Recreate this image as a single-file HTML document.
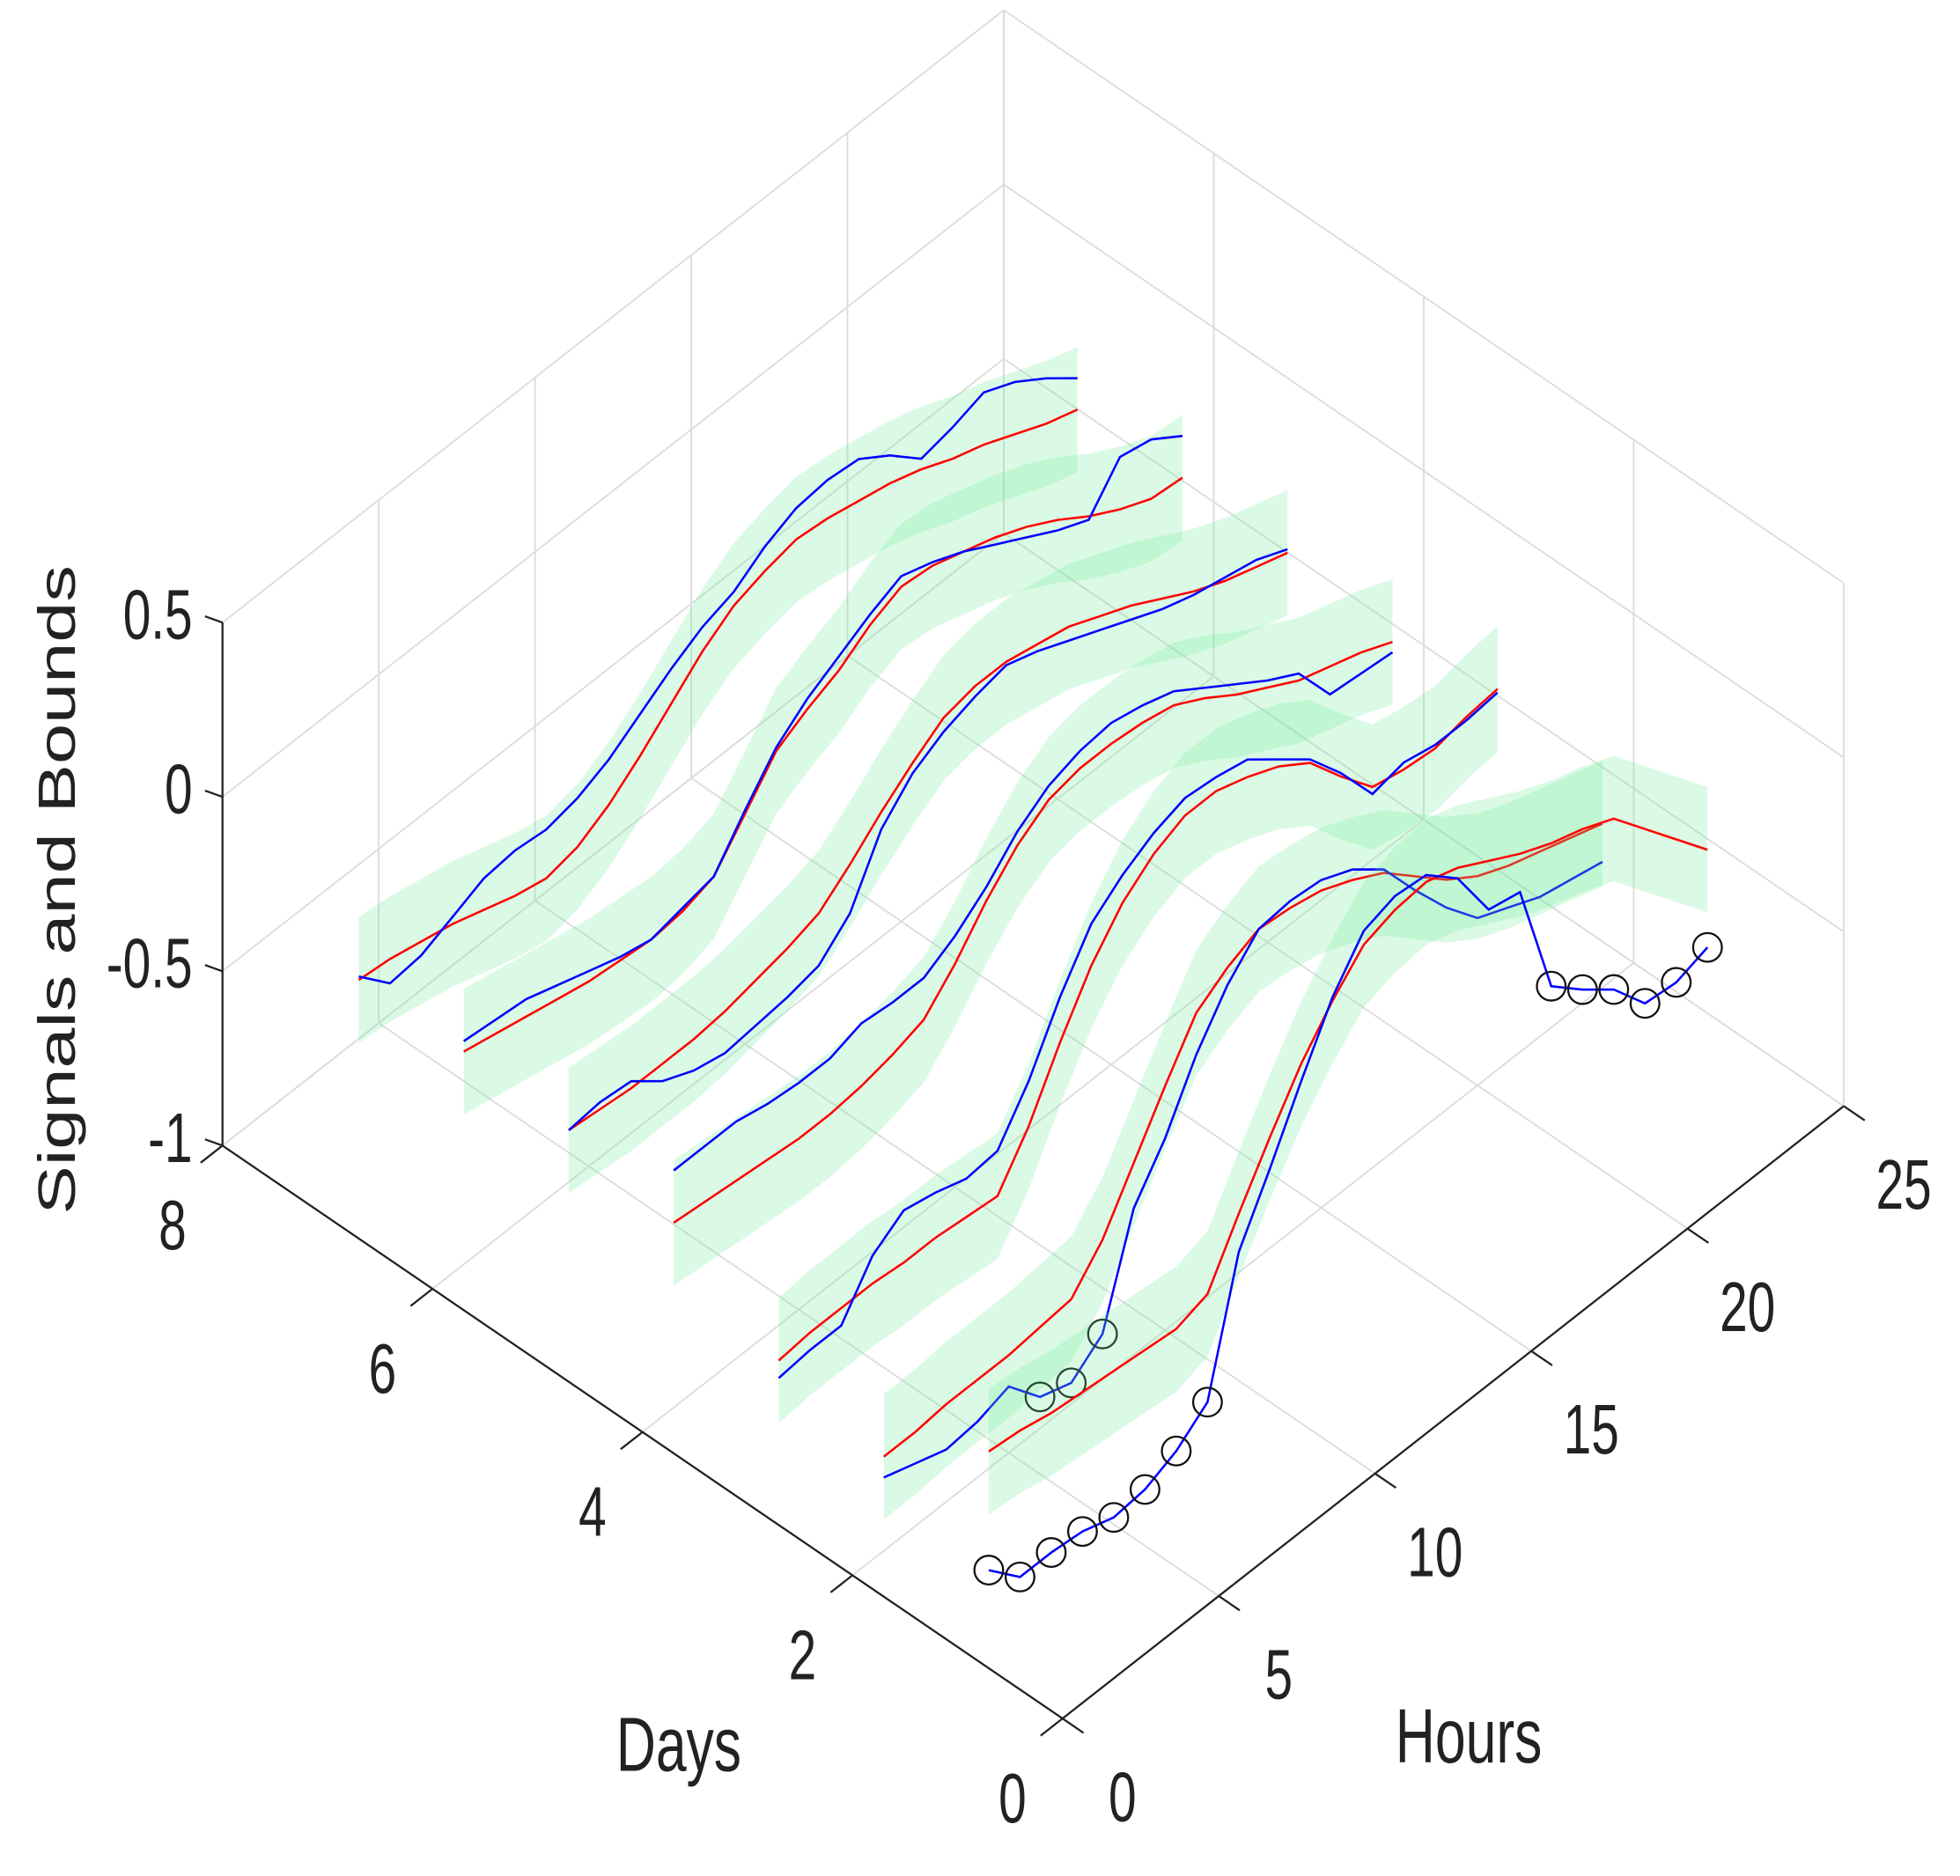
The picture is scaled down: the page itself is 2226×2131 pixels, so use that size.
<!DOCTYPE html>
<html><head><meta charset="utf-8"><style>
html,body{margin:0;padding:0;background:#fff;}
svg{display:block;}
text{font-family:"Liberation Sans",Arial,sans-serif;fill:#222;}
</style></head><body>
<svg id="chart" width="2226" height="2131" viewBox="0 0 1568 1501" preserveAspectRatio="none" xmlns="http://www.w3.org/2000/svg">
<g id="grid"></g>
<g id="series"></g>
<g id="axes"></g>
<text transform="translate(543,1417) scale(1,1.4)" text-anchor="middle" font-size="44">Days</text>
<text transform="translate(1175,1410) scale(1,1.4)" text-anchor="middle" font-size="44">Hours</text>
<text transform="translate(60,712) rotate(-90) scale(1.39,1)" text-anchor="middle" font-size="42">Signals and Bounds</text>
</svg>
<script>
const hours = [1,2,3,4,5,6,7,8,9,10,11,12,13,14,15,16,17,18,19,20,21,22,23,24];
const days = [1,2,3,4,5,6,7];
const red1 = [-0.51,-0.52,-0.54,-0.55,-0.56,-0.57,-0.58,-0.55,-0.39,-0.24,-0.10,0.01,0.10,0.13,0.14,0.11,0.06,0.01,-0.03,-0.06,-0.10,-0.20,-0.30,-0.40];
const blue1 = [-0.85,-0.94,-0.94,-0.95,-0.98,-0.97,-0.93,-0.86,-0.50,-0.33,-0.15,0.02,0.14,0.17,0.16,0.08,-0.08,-0.10,-0.44,-0.52,-0.59,-0.70,-0.71,-0.68];
const red2 = [-0.73,-0.73,-0.72,-0.72,-0.72,-0.71,-0.70,-0.60,-0.45,-0.30,-0.16,-0.10,-0.06,-0.07,-0.09,-0.13,-0.18,-0.26,-0.34,-0.40,-0.44,-0.47,-0.50,-0.53];
const blue2 = [-0.79,-0.82,-0.85,-0.84,-0.81,-0.91,-0.94,-0.87,-0.58,-0.45,-0.28,-0.15,-0.06,-0.05,-0.06,-0.10,-0.17,-0.30,-0.42,-0.52,-0.56,-0.60,-0.62,-0.64];
const red3 = [-0.66,-0.65,-0.65,-0.65,-0.66,-0.66,-0.67,-0.68,-0.55,-0.38,-0.23,-0.12,-0.05,-0.01,-0.01,-0.04,-0.08,-0.14,-0.25,-0.35,-0.37,-0.38,-0.36,-0.35];
const blue3 = [-0.71,-0.70,-0.70,-0.57,-0.51,-0.53,-0.56,-0.55,-0.42,-0.25,-0.11,-0.04,0.01,0.04,0.03,0.01,-0.06,-0.13,-0.24,-0.37,-0.35,-0.37,-0.37,-0.36];
const red4 = [-0.47,-0.48,-0.49,-0.50,-0.51,-0.51,-0.50,-0.48,-0.45,-0.36,-0.25,-0.16,-0.10,-0.08,-0.08,-0.09,-0.11,-0.16,-0.22,-0.27,-0.32,-0.35,-0.38,-0.42];
const blue4 = [-0.32,-0.32,-0.32,-0.34,-0.35,-0.35,-0.32,-0.33,-0.33,-0.28,-0.21,-0.12,-0.06,-0.03,-0.02,-0.04,-0.07,-0.13,-0.19,-0.25,-0.30,-0.43,-0.44,-0.45];
const red5 = [-0.41,-0.42,-0.43,-0.43,-0.43,-0.42,-0.40,-0.38,-0.35,-0.28,-0.20,-0.13,-0.07,-0.05,-0.05,-0.07,-0.09,-0.13,-0.17,-0.22,-0.27,-0.31,-0.34,-0.37];
const blue5 = [-0.41,-0.40,-0.41,-0.48,-0.52,-0.54,-0.53,-0.52,-0.50,-0.42,-0.25,-0.16,-0.11,-0.08,-0.06,-0.09,-0.13,-0.17,-0.21,-0.25,-0.28,-0.30,-0.32,-0.36];
const red6 = [-0.39,-0.41,-0.43,-0.45,-0.47,-0.48,-0.49,-0.48,-0.45,-0.34,-0.23,-0.18,-0.14,-0.08,-0.04,-0.05,-0.08,-0.11,-0.15,-0.20,-0.26,-0.31,-0.35,-0.36];
const blue6 = [-0.36,-0.37,-0.38,-0.41,-0.44,-0.47,-0.49,-0.47,-0.45,-0.33,-0.22,-0.15,-0.10,-0.05,-0.01,-0.04,-0.08,-0.13,-0.18,-0.23,-0.27,-0.16,-0.18,-0.24];
const red7 = [-0.39,-0.40,-0.42,-0.44,-0.47,-0.50,-0.52,-0.50,-0.45,-0.38,-0.30,-0.22,-0.16,-0.13,-0.11,-0.12,-0.14,-0.16,-0.19,-0.23,-0.26,-0.30,-0.34,-0.37];
const blue7 = [-0.38,-0.47,-0.46,-0.42,-0.38,-0.37,-0.38,-0.36,-0.32,-0.26,-0.20,-0.15,-0.12,-0.06,-0.02,-0.01,-0.02,-0.08,-0.16,-0.14,-0.11,-0.15,-0.21,-0.28];
const boundWidth = 0.18;
const zTicks = [-1,-0.5,0,0.5];
const zTickLabels = ["-1","-0.5","0","0.5"];
const dayTicks = [0,2,4,6,8];
const dayTickLabels = ["0","2","4","6","8"];
const hourTicks = [0,5,10,15,20,25];
const hourTickLabels = ["0","5","10","15","20","25"];

const redSeries = [red1,red2,red3,red4,red5,red6,red7];
const blueSeries = [blue1,blue2,blue3,blue4,blue5,blue6,blue7];

const NS = "http://www.w3.org/2000/svg";
const DMAX = 8, HMAX = 25, ZMIN = -1, ZMAX = 0.5;
function P(d,h,z){ return [850 - 84*d + 25*h, 1375 - 57.3*d - 19.6*h - (z-ZMIN)*279]; }
function mk(tag, attrs, parent){ const e=document.createElementNS(NS,tag); for(const k in attrs) e.setAttribute(k,attrs[k]); parent.appendChild(e); return e; }
function pts(arr){ return arr.map(p=>p[0].toFixed(1)+","+p[1].toFixed(1)).join(" "); }

const grid = document.getElementById('grid');
const gs = {stroke:"#dcdcdc","stroke-width":1.3,fill:"none"};
function gline(a,b){
  const l=mk('line',Object.assign({x1:a[0],y1:a[1],x2:b[0],y2:b[1]},gs),grid);
  
  
}
for(const h of hourTicks){ gline(P(DMAX,h,ZMIN),P(DMAX,h,ZMAX)); }
for(const z of zTicks){ gline(P(DMAX,0,z),P(DMAX,HMAX,z)); }
for(const d of dayTicks){ gline(P(d,HMAX,ZMIN),P(d,HMAX,ZMAX)); }
for(const z of zTicks){ gline(P(0,HMAX,z),P(DMAX,HMAX,z)); }
for(const d of dayTicks){ gline(P(d,0,ZMIN),P(d,HMAX,ZMIN)); }
for(const h of hourTicks){ gline(P(0,h,ZMIN),P(DMAX,h,ZMIN)); }

const series = document.getElementById('series');
for(let i=days.length-1;i>=0;i--){
  const d=days[i], red=redSeries[i], blue=blueSeries[i];
  const g=mk('g',{},series);
  
  
  const upper=hours.map((h,k)=>P(d,h,red[k]+boundWidth));
  const lower=hours.map((h,k)=>P(d,h,red[k]-boundWidth)).reverse();
  const band=mk('polygon',{points:pts(upper.concat(lower)),fill:"rgb(110,235,150)","fill-opacity":0.25,stroke:"none"},g);
  
  
  const rl=mk('polyline',{points:pts(hours.map((h,k)=>P(d,h,red[k]))),fill:"none",stroke:"#ff0000","stroke-width":1.8},g);
  
  
  const bl=mk('polyline',{points:pts(hours.map((h,k)=>P(d,h,blue[k]))),fill:"none",stroke:"#0000ff","stroke-width":1.8},g);
  
  
  hours.forEach((h,k)=>{
    if(Math.abs(blue[k]-red[k])>boundWidth){
      const p=P(d,h,blue[k]);
      const c=mk('circle',{cx:p[0],cy:p[1],r:11.5,fill:"none",stroke:"#111","stroke-width":1.6},g);
      
      
    }
  });
}

const axes=document.getElementById('axes');
const as={stroke:"#222","stroke-width":1.6};
function aline(a,b,name){
  const l=mk('line',Object.assign({x1:a[0],y1:a[1],x2:b[0],y2:b[1]},as),axes);
  
  
}
aline(P(DMAX,0,ZMIN),P(DMAX,0,ZMAX),'z-axis');
aline(P(0,0,ZMIN),P(DMAX,0,ZMIN),'days-axis');
aline(P(0,0,ZMIN),P(0,HMAX,ZMIN),'hours-axis');
function label(x,y,anchor,str,name){
  const t=mk('text',{transform:"translate("+x.toFixed(1)+","+y.toFixed(1)+") scale(1,1.4)","text-anchor":anchor,"font-size":40},axes);
  t.textContent=str;
  
  
}
zTicks.forEach((z,k)=>{
  const p=P(DMAX,0,z);
  aline([p[0]-14,p[1]-5],p,'z-tick');
  label(p[0]-24,p[1]+13,"end",zTickLabels[k],'z-tick-label');
});
dayTicks.forEach((d,k)=>{
  const p=P(d,0,ZMIN);
  aline(p,P(d,-0.7,ZMIN),'days-tick');
  label(p[0]-40,p[1]+83,"middle",dayTickLabels[k],'days-tick-label');
});
hourTicks.forEach((h,k)=>{
  const p=P(0,h,ZMIN);
  aline(p,P(-0.2,h,ZMIN),'hours-tick');
  label(p[0]+48,p[1]+82,"middle",hourTickLabels[k],'hours-tick-label');
});
</script>
</body></html>
